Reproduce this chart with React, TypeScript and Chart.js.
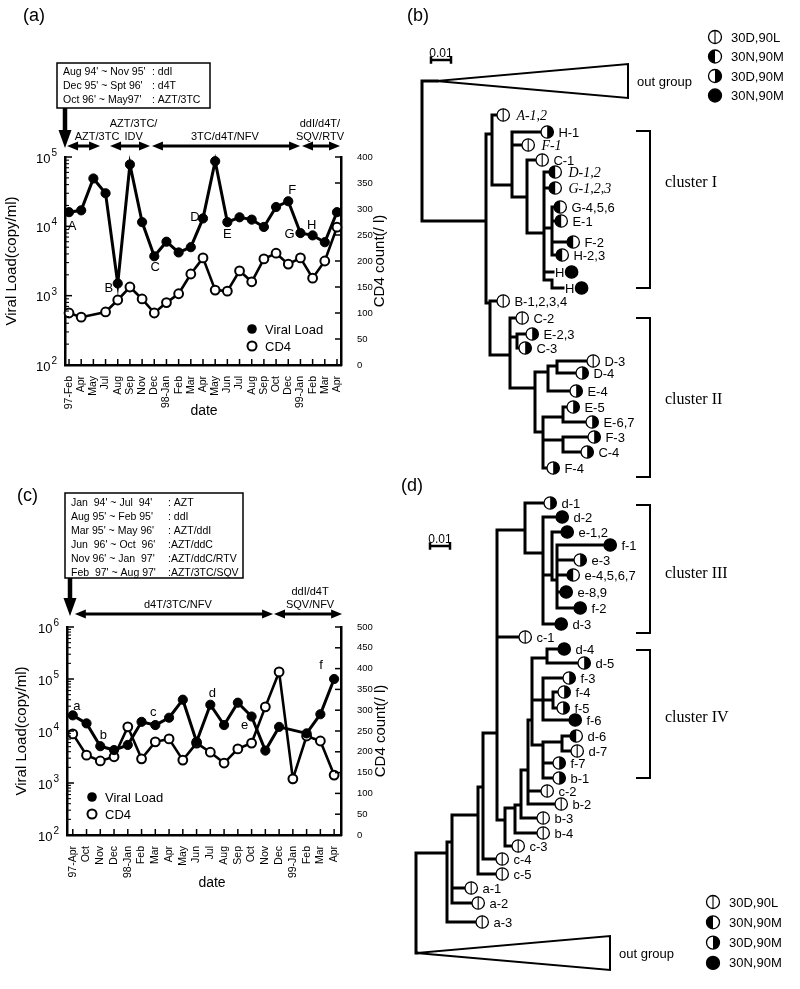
import React, { useEffect, useRef } from 'react';
import { Chart, registerables } from 'chart.js';
Chart.register(...registerables);

const SANS = "'Liberation Sans', Arial, Helvetica, sans-serif";
const SERIF = "'Liberation Serif', 'Times New Roman', Times, serif";

// ---------------- Panel (a) data ----------------
const A_DATES = ['97-Feb', 'Apr', 'May', 'Jul', 'Aug', 'Sep', 'Nov', 'Dec', '98-Jan', 'Feb', 'Mar', 'Apr', 'May', 'Jun', 'Jul', 'Aug', 'Sep', 'Oct', 'Dec', '99-Jan', 'Feb', 'Mar', 'Apr'];
const A_VIRAL = [16000, 17000, 49000, 30000, 1500, 78000, 11500, 3700, 6000, 4200, 5000, 13000, 87000, 11500, 13500, 12500, 9800, 19000, 23000, 8000, 7400, 5900, 16000];
const A_CD4 = [100, 92, null, 102, 125, 150, 127, 100, 120, 137, 175, 206, 144, 142, 181, 160, 204, 215, 194, 206, 167, 200, 265];
const A_MARKS = ['A', '', '', '', 'B', '', '', 'C', '', '', '', 'D', '', 'E', '', '', '', '', 'F', 'G', '', 'H', ''];
const A_HISTORY = [["Aug 94' ~ Nov 95'", ': ddI'], ["Dec 95' ~ Spt 96'", ': d4T'], ["Oct 96' ~ May97'", ': AZT/3TC']];
const A_REG_TEXT = [['AZT/3TC'], ['AZT/3TC/', 'IDV'], ['3TC/d4T/NFV'], ['ddI/d4T/', 'SQV/RTV']];
const A_REG_FROM = [-0.16, 3.37, 6.81, 19.13];
const A_REG_TO = [2.55, 6.65, 18.97, 22.25];
const A_REG_AT = [2.3, 5.3, 12.8, 20.6];

// ---------------- Panel (c) data ----------------
const C_DATES = ['97-Apr', 'Oct', 'Nov', 'Dec', '98-Jan', 'Feb', 'Mar', 'Apr', 'May', 'Jun', 'Jul', 'Aug', 'Sep', 'Oct', 'Nov', 'Dec', '99-Jan', 'Feb', 'Mar', 'Apr'];
const C_VIRAL = [20000, 14000, 5100, 4300, 5400, 15000, 13000, 18000, 40000, 6200, 32000, 13000, 35000, 19000, 4200, 12000, null, 9000, 21000, 100000];
const C_CD4 = [243, 192, 178, 188, 260, 183, 224, 231, 180, 221, 199, 173, 207, 221, 308, 392, 135, 238, 226, 144];
const C_MARKS = ['a', '', 'b', '', '', '', 'c', '', '', '', 'd', '', '', 'e', '', '', '', '', '', 'f'];
const C_HISTORY = [["Jan  94' ~ Jul  94'", ': AZT'], ["Aug 95' ~ Feb 95'", ': ddI'], ["Mar 95' ~ May 96'", ': AZT/ddI'], ["Jun  96' ~ Oct  96'", ':AZT/ddC'], ["Nov 96' ~ Jan  97'", ':AZT/ddC/RTV'], ["Feb  97' ~ Aug 97'", ':AZT/3TC/SQV']];
const C_REG_TEXT = [['d4T/3TC/NFV'], ['ddI/d4T', 'SQV/NFV']];
const C_REG_FROM = [0.15, 14.63];
const C_REG_TO = [14.56, 19.58];
const C_REG_AT = [7.64, 17.25];

// ---------------- Tree (b) data: internal nodes [id, parent, distance(x0.001), vertical position] ----------------
const B_NODES: [string, string, number, number][] = [
  ['root', '', 0, 150], ['out', 'root', 7.5, 81], ['n1', 'root', 32, 221], ['nA', 'n1', 35, 134],
  ['nB', 'nA', 45, 185], ['nC', 'nB', 52.5, 197], ['nD', 'nC', 61, 233], ['nG', 'nD', 65, 228],
  ['nH', 'nD', 65, 280], ['n3', 'n1', 34, 303], ['n4', 'n3', 44, 355], ['n5', 'n4', 47.5, 337],
  ['n6', 'n4', 56.5, 388], ['n7', 'n6', 63, 372], ['n8', 'n7', 67.5, 366], ['n9', 'n6', 60.5, 432],
  ['n10', 'n9', 70.5, 417], ['n11', 'n9', 70.5, 440],
];
// leaves [label, parent, distance, vertical position, genotype 0..3]
const B_LEAVES: [string, string, number, number, number][] = [
  ['A-1,2', 'nA', 37.5, 115, 0], ['H-1', 'nB', 59.5, 132, 2], ['F-1', 'nB', 50, 145, 0],
  ['C-1', 'nC', 57, 160, 0], ['D-1,2', 'nD', 63.5, 172, 1], ['G-1,2,3', 'nD', 63.5, 188, 1],
  ['G-4,5,6', 'nG', 66, 207, 1], ['E-1', 'nG', 66.5, 221, 1], ['F-2', 'nG', 72.5, 242, 1],
  ['H-2,3', 'nG', 67, 255, 1], ['H', 'nD', 65.5, 272, 3], ['H', 'nH', 70.5, 288, 3],
  ['B-1,2,3,4', 'n3', 37.5, 301, 0], ['C-2', 'n4', 47, 318, 0], ['E-2,3', 'n5', 52, 334, 2],
  ['C-3', 'n5', 48.5, 348, 2], ['D-3', 'n8', 82.5, 361, 0], ['D-4', 'n8', 77, 373, 2],
  ['E-4', 'n7', 74, 391, 2], ['E-5', 'n10', 72.5, 407, 2], ['E-6,7', 'n10', 82, 422, 2],
  ['F-3', 'n11', 83, 437, 2], ['C-4', 'n11', 79.5, 452, 2], ['F-4', 'n9', 62.5, 468, 2],
];
const B_OUTGROUP = [7.5, 103, 81, 17]; // apex distance, far distance, position, half-height
const B_CLUSTERS: [string, number, number, number][] = [['cluster I', 131, 288, 183], ['cluster II', 318, 477, 400]];

// ---------------- Tree (d) data ----------------
const D_NODES: [string, string, number, number][] = [
  ['root', '', 0, 900], ['out', 'root', 0.5, 953], ['na', 'root', 15.5, 853], ['na2', 'na', 18, 842],
  ['nb', 'na2', 31, 815], ['nc', 'nb', 33.5, 787], ['n2', 'nc', 40.5, 733], ['nIII', 'n2', 54.5, 530],
  ['nIII2', 'nIII', 63.5, 553], ['nIII3', 'nIII2', 68, 575], ['nIII4', 'nIII3', 70.5, 580],
  ['nc3', 'n2', 44.5, 820], ['nb4', 'nc3', 49.5, 808], ['nb3', 'nb4', 52.5, 805], ['nb2', 'nb3', 56, 770],
  ['nIV', 'nb2', 58, 720], ['nd45', 'nIV', 65.5, 658], ['nf', 'nIV', 63.5, 700], ['nf45', 'nf', 68.5, 700],
  ['nx', 'nIV', 63.5, 745], ['nd67', 'nx', 73, 742],
];
const D_LEAVES: [string, string, number, number, number][] = [
  ['d-1', 'nIII', 64, 503, 2], ['d-2', 'nIII2', 70, 517, 3], ['e-1,2', 'nIII3', 72.5, 532, 3],
  ['f-1', 'nIII4', 94, 545, 3], ['e-3', 'nIII4', 79, 560, 2], ['e-4,5,6,7', 'nIII4', 75.5, 575, 1],
  ['e-8,9', 'nIII4', 72, 592, 3], ['f-2', 'nIII4', 79, 608, 3], ['d-3', 'nIII2', 69.5, 624, 3],
  ['c-1', 'n2', 51.5, 637, 0], ['d-4', 'nd45', 71, 649, 3], ['d-5', 'nd45', 81, 663, 2],
  ['f-3', 'nf', 73.5, 678, 2], ['f-4', 'nf45', 71, 692, 2], ['f-5', 'nf45', 70.5, 708, 2],
  ['f-6', 'nf', 76.5, 720, 3], ['d-6', 'nd67', 77, 736, 1], ['d-7', 'nd67', 77.5, 751, 0],
  ['f-7', 'nx', 68.5, 763, 2], ['b-1', 'nx', 68.5, 778, 2], ['c-2', 'nb2', 62.5, 791, 0],
  ['b-2', 'nb2', 69.5, 804, 0], ['b-3', 'nb3', 60.5, 818, 0], ['b-4', 'nb4', 60.5, 833, 0],
  ['c-3', 'nc3', 48, 846, 0], ['c-4', 'nc', 40, 859, 0], ['c-5', 'nb', 40, 874, 0],
  ['a-1', 'na2', 24.5, 888, 0], ['a-2', 'na2', 28, 903, 0], ['a-3', 'na', 30, 922, 0],
];
const D_OUTGROUP = [0.5, 97, 953, 17];
const D_CLUSTERS: [string, number, number, number][] = [['cluster III', 505, 633, 574], ['cluster IV', 650, 778, 718]];

const GENOTYPES = ['30D,90L', '30N,90M', '30D,90M', '30N,90M'];
const LEGEND_ORDER = [0, 1, 2, 3];
const ITALIC = new Set(['A-1,2', 'F-1', 'D-1,2', 'G-1,2,3']);
const LABEL_BEFORE = new Set(['H']);

// ---------------- helpers ----------------
function seg(ctx: any, x1: number, y1: number, x2: number, y2: number, lw: number) {
  ctx.lineWidth = lw;
  ctx.beginPath();
  ctx.moveTo(x1, y1);
  ctx.lineTo(x2, y2);
  ctx.stroke();
}

function dblArrow(ctx: any, x1: number, x2: number, y: number) {
  const hl = 11, hw = 4.5;
  seg(ctx, x1 + hl - 1, y, x2 - hl + 1, y, 3);
  ctx.beginPath(); ctx.moveTo(x1, y); ctx.lineTo(x1 + hl, y - hw); ctx.lineTo(x1 + hl, y + hw); ctx.closePath(); ctx.fill();
  ctx.beginPath(); ctx.moveTo(x2, y); ctx.lineTo(x2 - hl, y - hw); ctx.lineTo(x2 - hl, y + hw); ctx.closePath(); ctx.fill();
}

function drawSym(ctx: any, cx: number, cy: number, r: number, type: number) {
  ctx.save();
  ctx.fillStyle = '#fff';
  ctx.beginPath(); ctx.arc(cx, cy, r, 0, Math.PI * 2); ctx.fill();
  ctx.fillStyle = '#000';
  ctx.strokeStyle = '#000';
  if (type === 3) {
    ctx.beginPath(); ctx.arc(cx, cy, r, 0, Math.PI * 2); ctx.fill();
  } else if (type === 1) {
    ctx.beginPath(); ctx.arc(cx, cy, r, Math.PI / 2, Math.PI * 1.5); ctx.closePath(); ctx.fill();
  } else if (type === 2) {
    ctx.beginPath(); ctx.arc(cx, cy, r, -Math.PI / 2, Math.PI / 2); ctx.closePath(); ctx.fill();
  } else {
    seg(ctx, cx, cy - r, cx, cy + r, 1.1);
  }
  ctx.lineWidth = 1.3;
  ctx.beginPath(); ctx.arc(cx, cy, r, 0, Math.PI * 2); ctx.stroke();
  ctx.restore();
}

// ---------------- line panel ----------------
function buildPanel(canvas: HTMLCanvasElement, s: any) {
  const deco = {
    id: 'deco' + s.tag,
    afterDraw(chart: any) {
      const ctx = chart.ctx;
      const xs = chart.scales.x, ys = chart.scales.y, y2 = chart.scales.y2;
      const a = chart.chartArea;
      ctx.save();
      ctx.strokeStyle = '#000';
      ctx.fillStyle = '#000';
      ctx.lineCap = 'butt';
      // inward ticks
      s.dates.forEach((_: string, i: number) => {
        const px = xs.getPixelForValue(i);
        seg(ctx, px, a.bottom, px, a.bottom - 6, 1.5);
      });
      for (let v = 0; v <= s.cd4Max; v += 50) {
        const py = y2.getPixelForValue(v);
        seg(ctx, a.right, py, a.right - 6, py, 1.5);
      }
      const eMax = Math.round(Math.log10(s.logMax));
      for (let e = 2; e <= eMax; e++) {
        for (let m = 1; m <= 9; m++) {
          const v = m * Math.pow(10, e);
          if (v > s.logMax) break;
          const py = ys.getPixelForValue(v);
          seg(ctx, a.left, py, a.left + (m === 1 ? 7 : 4), py, m === 1 ? 1.5 : 1.1);
        }
        const py = ys.getPixelForValue(Math.pow(10, e));
        ctx.font = `13px ${SANS}`;
        const w10 = ctx.measureText('10').width;
        ctx.font = `10px ${SANS}`;
        const we = ctx.measureText(String(e)).width;
        const x0 = a.left - 8 - we - w10 - 1;
        ctx.textAlign = 'left';
        ctx.textBaseline = 'alphabetic';
        ctx.font = `13px ${SANS}`;
        ctx.fillText('10', x0, py + 5.5);
        ctx.font = `10px ${SANS}`;
        ctx.fillText(String(e), x0 + w10 + 1, py - 1);
      }
      // axis titles
      ctx.textAlign = 'center';
      ctx.textBaseline = 'middle';
      ctx.font = `15px ${SANS}`;
      ctx.save(); ctx.translate(s.leftTitleX, (a.top + a.bottom) / 2); ctx.rotate(-Math.PI / 2);
      ctx.fillText('Viral Load(copy/ml)', 0, 0); ctx.restore();
      ctx.save(); ctx.translate(s.rightTitleX, (a.top + a.bottom) / 2); ctx.rotate(-Math.PI / 2);
      ctx.fillText('CD4 count(/ l)', 0, 0); ctx.restore();
      ctx.font = `14px ${SANS}`;
      ctx.fillText('date', s.dateX, s.dateY);
      // point letters
      const meta = chart.getDatasetMeta(0);
      ctx.font = `13px ${SANS}`;
      s.marks.forEach((m: string, i: number) => {
        if (!m) return;
        const el = meta.data[i];
        const off = s.markOff[m];
        ctx.fillText(m, el.x + off[0], el.y + off[1]);
      });
      // legend
      const [lx, ly] = s.legend;
      ctx.beginPath(); ctx.arc(lx, ly, 4.8, 0, Math.PI * 2); ctx.fill();
      ctx.fillStyle = '#fff'; ctx.lineWidth = 2;
      ctx.beginPath(); ctx.arc(lx, ly + 17, 4.5, 0, Math.PI * 2); ctx.fill(); ctx.stroke();
      ctx.fillStyle = '#000';
      ctx.textAlign = 'left';
      ctx.font = `13px ${SANS}`;
      ctx.fillText('Viral Load', lx + 13, ly + 1);
      ctx.fillText('CD4', lx + 13, ly + 18);
      // history box
      const b = s.box;
      ctx.lineWidth = 1.5;
      ctx.strokeRect(b.x, b.y, b.w, b.h);
      ctx.font = `10.5px ${SANS}`;
      s.history.forEach((row: string[], k: number) => {
        const y = b.y + b.first + k * b.line;
        ctx.fillText(row[0], b.x + 6, y);
        ctx.fillText(row[1], b.colon, y);
      });
      // down arrow
      const ax = s.arrowX;
      const tip = s.regY + 2;
      seg(ctx, ax, b.y + b.h, ax, tip - 16, 4.5);
      ctx.beginPath(); ctx.moveTo(ax - 6.5, tip - 18); ctx.lineTo(ax + 6.5, tip - 18); ctx.lineTo(ax, tip); ctx.closePath(); ctx.fill();
      // regimen arrows
      s.regText.forEach((lines: string[], k: number) => {
        const x1 = xs.getPixelForValue(s.regFrom[k]);
        const x2 = xs.getPixelForValue(s.regTo[k]);
        dblArrow(ctx, x1, x2, s.regY);
        const cx = xs.getPixelForValue(s.regAt[k]);
        ctx.font = `11px ${SANS}`;
        ctx.textAlign = 'center';
        ctx.textBaseline = 'alphabetic';
        lines.forEach((t, j) => ctx.fillText(t, cx, s.regY - 6 - (lines.length - 1 - j) * 13));
      });
      // panel tag
      ctx.font = `18px ${SANS}`;
      ctx.textAlign = 'left';
      ctx.textBaseline = 'middle';
      ctx.fillText(s.tag, s.tagPos[0], s.tagPos[1]);
      ctx.restore();
    },
  };

  return new Chart(canvas, {
    type: 'line',
    data: {
      datasets: [
        {
          label: 'Viral Load',
          data: s.viral.map((v: number | null, i: number) => ({ x: i, y: v })),
          yAxisID: 'y',
          borderColor: '#000',
          borderWidth: 3,
          pointRadius: 4.6,
          pointBackgroundColor: '#000',
          pointBorderColor: '#000',
          pointBorderWidth: 1,
          spanGaps: true,
          clip: false,
        } as any,
        {
          label: 'CD4',
          data: s.cd4.map((v: number | null, i: number) => ({ x: i, y: v })),
          yAxisID: 'y2',
          borderColor: '#000',
          borderWidth: 2.6,
          pointRadius: 4.4,
          pointBackgroundColor: '#fff',
          pointBorderColor: '#000',
          pointBorderWidth: 2,
          spanGaps: true,
          clip: false,
        } as any,
      ],
    },
    options: {
      responsive: false,
      animation: false,
      devicePixelRatio: 1,
      events: [],
      layout: { padding: { top: s.area.t, left: 0, right: 0, bottom: 0 } },
      plugins: { legend: { display: false }, tooltip: { enabled: false } },
      scales: {
        x: {
          type: 'linear',
          position: 'bottom',
          min: s.xMin,
          max: s.xMax,
          afterFit: (sc: any) => { sc.height = s.h - s.area.b; },
          grid: { display: false },
          border: { display: true, color: '#000', width: 2.5 },
          ticks: {
            stepSize: 1,
            autoSkip: false,
            includeBounds: false,
            maxRotation: 90,
            minRotation: 90,
            padding: 3,
            color: '#000',
            font: { family: SANS, size: 10.5 },
            callback: (v: any) => (Number.isInteger(v) ? s.dates[v] ?? '' : ''),
          },
        },
        y: {
          type: 'logarithmic',
          position: 'left',
          min: 100,
          max: s.logMax,
          afterFit: (sc: any) => { sc.width = s.area.l; },
          grid: { display: false },
          border: { display: true, color: '#000', width: 2.5 },
          ticks: { callback: () => '' },
        },
        y2: {
          type: 'linear',
          position: 'right',
          min: 0,
          max: s.cd4Max,
          afterFit: (sc: any) => { sc.width = s.w - s.area.r; },
          grid: { display: false },
          border: { display: true, color: '#000', width: 2.5 },
          ticks: { stepSize: 50, padding: 8, color: '#000', font: { family: SANS, size: 9.5 } },
        },
      },
    } as any,
    plugins: [deco],
  });
}

// ---------------- tree panel ----------------
function buildTree(canvas: HTMLCanvasElement, t: any) {
  const pos = new Map<string, { x: number; y: number }>();
  t.nodes.forEach(([id, , x, y]: any) => pos.set(id, { x, y }));
  const branches: any[] = [];
  const addEdge = (parent: string, x: number, y: number) => {
    if (!parent) return;
    const p = pos.get(parent)!;
    branches.push({ x: p.x, y: p.y }, { x: p.x, y }, { x, y }, { x, y: null });
  };
  t.nodes.forEach(([, p, x, y]: any) => addEdge(p, x, y));
  t.leaves.forEach(([, p, x, y]: any) => addEdge(p, x, y));

  const [ox0, ox1, oy, oh] = t.outgroup;
  const triangle = [{ x: ox0, y: oy }, { x: ox1, y: oy - oh }, { x: ox1, y: oy + oh }, { x: ox0, y: oy }];

  const brackets: any[] = [];
  t.clusters.forEach(([, top, bottom]: any) => {
    brackets.push({ x: t.tickX, y: top }, { x: t.barX, y: top }, { x: t.barX, y: bottom }, { x: t.tickX, y: bottom }, { x: t.tickX, y: null });
  });

  const [sx, sy] = t.scaleBar;
  const bar = [
    { x: sx, y: sy }, { x: sx + 10, y: sy }, { x: sx + 10, y: null },
    { x: sx, y: sy - 2.5 }, { x: sx, y: sy + 2.5 }, { x: sx, y: null },
    { x: sx + 10, y: sy - 2.5 }, { x: sx + 10, y: sy + 2.5 },
  ];

  const deco = {
    id: 'tree' + t.tag,
    afterDatasetsDraw(chart: any) {
      const ctx = chart.ctx;
      const xs = chart.scales.x, ys = chart.scales.y;
      const R = 6.2;
      ctx.save();
      ctx.fillStyle = '#000';
      ctx.strokeStyle = '#000';
      ctx.textBaseline = 'middle';
      ctx.textAlign = 'left';
      t.leaves.forEach(([label, , x, y, type]: any) => {
        const tip = xs.getPixelForValue(x);
        const py = ys.getPixelForValue(y);
        const it = ITALIC.has(label);
        ctx.font = it ? `italic 14px ${SERIF}` : `13px ${SANS}`;
        if (LABEL_BEFORE.has(label)) {
          ctx.fillText(label, tip + 2, py + 1);
          const w = ctx.measureText(label).width;
          drawSym(ctx, tip + 3 + w + R, py, R, type);
        } else {
          drawSym(ctx, tip + R, py, R, type);
          ctx.fillText(label, tip + 2 * R + (it ? 7 : 5), py + 1);
        }
      });
      // outgroup label
      ctx.font = `13px ${SANS}`;
      ctx.fillText('out group', xs.getPixelForValue(ox1) + 9, ys.getPixelForValue(oy) + 1);
      // cluster labels
      ctx.font = `16px ${SERIF}`;
      t.clusters.forEach(([name, , , ly]: any) => {
        ctx.fillText(name, xs.getPixelForValue(t.barX) + 15, ys.getPixelForValue(ly));
      });
      // scale label
      ctx.font = `12px ${SANS}`;
      ctx.textAlign = 'center';
      ctx.textBaseline = 'alphabetic';
      ctx.fillText('0.01', xs.getPixelForValue(sx + 5), ys.getPixelForValue(sy) - 3);
      // legend
      ctx.textAlign = 'left';
      ctx.textBaseline = 'middle';
      ctx.font = `13px ${SANS}`;
      LEGEND_ORDER.forEach((g, k) => {
        const y = t.legendY + k * t.legendStep;
        drawSym(ctx, t.legendX, y, 6.5, g);
        ctx.fillText(GENOTYPES[g], t.legendX + 16, y + 1);
      });
      // tag
      ctx.font = `18px ${SANS}`;
      ctx.fillText(t.tag, t.tagPos[0], t.tagPos[1]);
      ctx.restore();
    },
  };

  const lineDs = (data: any[], w: number) => ({
    data,
    showLine: true,
    borderColor: '#000',
    borderWidth: w,
    pointRadius: 0,
    spanGaps: false,
    borderCapStyle: 'square',
    borderJoinStyle: 'miter',
    clip: false,
  });

  return new Chart(canvas, {
    type: 'scatter',
    data: { datasets: [lineDs(branches, 3), lineDs(triangle, 2), lineDs(brackets, 2), lineDs(bar, 2.5)] as any },
    options: {
      responsive: false,
      animation: false,
      devicePixelRatio: 1,
      events: [],
      layout: { padding: 0 },
      plugins: { legend: { display: false }, tooltip: { enabled: false } },
      scales: {
        x: { type: 'linear', display: false, min: t.xMin, max: t.xMax },
        y: { type: 'linear', display: false, min: t.yMin, max: t.yMax, reverse: true },
      },
    } as any,
    plugins: [deco],
  });
}

const SPEC_A = {
  tag: '(a)', dates: A_DATES, viral: A_VIRAL, cd4: A_CD4, marks: A_MARKS,
  markOff: { A: [3, 14], B: [-9, 5], C: [1, 11], D: [-8, -1], E: [0, 12], F: [4, -11], G: [-11, 1], H: [-13, -17] },
  history: A_HISTORY, regText: A_REG_TEXT, regFrom: A_REG_FROM, regTo: A_REG_TO, regAt: A_REG_AT,
  w: 400, h: 460, area: { l: 65, r: 341, t: 157, b: 365 }, xMin: -0.33, xMax: 22.33, logMax: 1e5, cd4Max: 400,
  box: { x: 57, y: 63, w: 153, h: 45, first: 9, line: 14, colon: 152 }, arrowX: 65, regY: 146,
  tagPos: [23, 16], leftTitleX: 12, rightTitleX: 380, dateX: 204, dateY: 411, legend: [252, 329],
};

const SPEC_C = {
  tag: '(c)', dates: C_DATES, viral: C_VIRAL, cd4: C_CD4, marks: C_MARKS,
  markOff: { a: [4, -9], b: [3, -11], c: [-2, -13], d: [2, -11], e: [-7, 9], f: [-13, -14] },
  history: C_HISTORY, regText: C_REG_TEXT, regFrom: C_REG_FROM, regTo: C_REG_TO, regAt: C_REG_AT,
  w: 400, h: 529, area: { l: 67, r: 341, t: 167, b: 375 }, xMin: -0.42, xMax: 19.5, logMax: 1e6, cd4Max: 500,
  box: { x: 65, y: 33, w: 178, h: 85, first: 10, line: 14, colon: 168 }, arrowX: 70, regY: 154,
  tagPos: [17, 36], leftTitleX: 22, rightTitleX: 381, dateX: 212, dateY: 423, legend: [92, 337],
};

const SPEC_B = {
  tag: '(b)', nodes: B_NODES, leaves: B_LEAVES, outgroup: B_OUTGROUP, clusters: B_CLUSTERS,
  xMin: -11, xMax: 189, yMin: 0, yMax: 480, barX: 114, tickX: 107.5, scaleBar: [4.5, 60],
  legendX: 315, legendY: 37, legendStep: 19.5, tagPos: [7, 16],
};

const SPEC_D = {
  tag: '(d)', nodes: D_NODES, leaves: D_LEAVES, outgroup: D_OUTGROUP, clusters: D_CLUSTERS,
  xMin: -8, xMax: 192, yMin: 470, yMax: 989, barX: 117, tickX: 110.5, scaleBar: [7, 546],
  legendX: 313, legendY: 432, legendStep: 20.3, tagPos: [1, 16],
};

export default function App() {
  const aRef = useRef<HTMLCanvasElement>(null);
  const bRef = useRef<HTMLCanvasElement>(null);
  const cRef = useRef<HTMLCanvasElement>(null);
  const dRef = useRef<HTMLCanvasElement>(null);

  useEffect(() => {
    const charts = [
      buildPanel(aRef.current!, SPEC_A),
      buildTree(bRef.current!, SPEC_B),
      buildPanel(cRef.current!, SPEC_C),
      buildTree(dRef.current!, SPEC_D),
    ];
    return () => charts.forEach((c) => c.destroy());
  }, []);

  const abs = (l: number, t: number, w: number, h: number): React.CSSProperties => ({ position: 'absolute', left: l, top: t, width: w, height: h });

  return (
    <div style={{ position: 'absolute', left: 0, top: 0, width: 800, height: 989, background: '#fff', overflow: 'hidden' }}>
      <canvas ref={aRef} width={400} height={460} style={abs(0, 0, 400, 460)} />
      <canvas ref={cRef} width={400} height={529} style={abs(0, 460, 400, 529)} />
      <canvas ref={bRef} width={400} height={480} style={abs(400, 0, 400, 480)} />
      <canvas ref={dRef} width={400} height={519} style={abs(400, 470, 400, 519)} />
    </div>
  );
}
